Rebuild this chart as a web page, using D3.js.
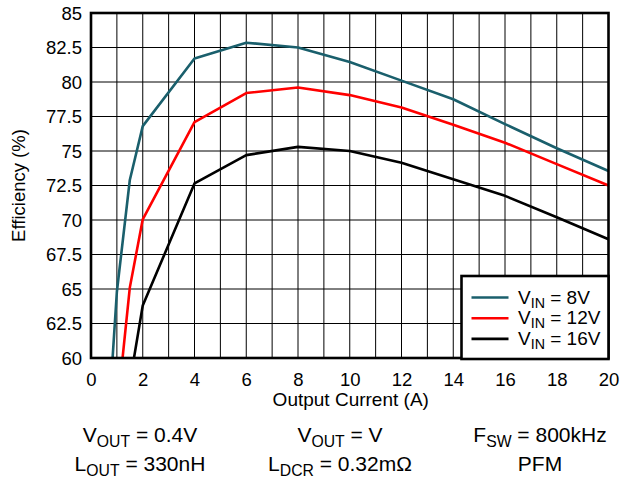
<!DOCTYPE html>
<html><head><meta charset="utf-8">
<script src="https://cdn.jsdelivr.net/npm/d3@7/dist/d3.min.js"></script>
<style>body{margin:0;background:#fff} text{font-family:"Liberation Sans",Arial,Helvetica,sans-serif;fill:#000}</style>
</head><body><svg id="c" width="631" height="493"></svg>
<script>
const currents = [0.5, 1, 1.5, 2, 4, 6, 8, 10, 12, 14, 16, 18, 20];
const eff8V  = [50.3, 64.8, 72.9, 76.8, 81.7, 82.85, 82.5, 81.45, 80.1, 78.75, 76.95, 75.2, 73.55];
const eff12V = [null, 56.0, 65.1, 70.05, 77.1, 79.2, 79.6, 79.05, 78.15, 76.9, 75.6, 74.05, 72.5];
const eff16V = [null, null, 58.2, 63.8, 72.65, 74.7, 75.3, 75.0, 74.15, 72.95, 71.75, 70.2, 68.6];
const seriesLabels = ["8V", "12V", "16V"];
const seriesColors = ["#1a5f6c", "#ff0000", "#000000"];
const xTickValues = [0, 2, 4, 6, 8, 10, 12, 14, 16, 18, 20];
const yTickValues = [60, 62.5, 65, 67.5, 70, 72.5, 75, 77.5, 80, 82.5, 85];
const yTickLabels = ["60", "62.5", "65", "67.5", "70", "72.5", "75", "77.5", "80", "82.5", "85"];
const xGrid = d3.range(0, 21, 1);
const xTitle = "Output Current (A)";
const yTitle = "Efficiency (%)";
// notes: [main, subscript, rest]
const notesRow1 = [["V", "OUT", " = 0.4V"], ["V", "OUT", " = V"], ["F", "SW", " = 800kHz"]];
const notesRow2 = [["L", "OUT", " = 330nH"], ["L", "DCR", " = 0.32m\u03A9"], ["PFM", "", ""]];

const svg = d3.select("#c");
const L = 91, R = 608.5, T = 13, B = 358;
const x = d3.scaleLinear().domain([0, 20]).range([L, R]);
const y = d3.scaleLinear().domain([60, 85]).range([B, T]);
const FS = 18.5, TF = 19;

// grid
const g = svg.append("g");
g.selectAll("line.vx").data(xGrid).enter().append("line")
  .attr("x1", d => x(d)).attr("x2", d => x(d)).attr("y1", T).attr("y2", B)
  .attr("stroke", "#000").attr("stroke-width", 1);
g.selectAll("line.hy").data(yTickValues).enter().append("line")
  .attr("y1", d => y(d)).attr("y2", d => y(d)).attr("x1", L).attr("x2", R)
  .attr("stroke", "#000").attr("stroke-width", 1);

// clip
svg.append("clipPath").attr("id", "clip").append("rect")
  .attr("x", L).attr("y", T).attr("width", R - L).attr("height", B - T);

const allSeries = [eff8V, eff12V, eff16V];
const line = d3.line().defined(d => d[1] != null).x(d => x(d[0])).y(d => y(d[1]));
allSeries.forEach((vals, i) => {
  svg.append("path")
    .datum(currents.map((c, k) => [c, vals[k]]))
    .attr("d", line).attr("fill", "none")
    .attr("stroke", seriesColors[i]).attr("stroke-width", 2.6)
    .attr("stroke-linejoin", "round")
    .attr("clip-path", "url(#clip)");
});

// frame
svg.append("rect").attr("x", L).attr("y", T).attr("width", R - L).attr("height", B - T)
  .attr("fill", "none").attr("stroke", "#000").attr("stroke-width", 2.6);

// axes
const xAxis = d3.axisBottom(x).tickValues(xTickValues).tickSize(0).tickPadding(0).tickFormat(d3.format("d"));
const xa = svg.append("g").attr("transform", `translate(0,${B})`).call(xAxis);
xa.select(".domain").remove();
xa.selectAll("text").attr("font-size", FS).attr("dy", null).attr("y", 28).attr("font-family", "Liberation Sans, Arial, sans-serif");

const yAxis = d3.axisLeft(y).tickValues(yTickValues).tickSize(0).tickPadding(9)
  .tickFormat((d, i) => yTickLabels[i]);
const ya = svg.append("g").attr("transform", `translate(${L},0)`).call(yAxis);
ya.select(".domain").remove();
ya.selectAll("text").attr("font-size", FS).attr("dy", "0.35em").attr("font-family", "Liberation Sans, Arial, sans-serif");

// titles
svg.append("text").attr("x", (L + R) / 2 + 1).attr("y", 406).attr("text-anchor", "middle")
  .attr("font-size", TF).text(xTitle);
svg.append("text").attr("transform", `translate(25,${(T + B) / 2}) rotate(-90)`)
  .attr("text-anchor", "middle").attr("font-size", FS).text(yTitle);

// legend
const lg = svg.append("g");
lg.append("rect").attr("x", 461.5).attr("y", 276).attr("width", 147).attr("height", 83)
  .attr("fill", "#fff").attr("stroke", "#000").attr("stroke-width", 2.6);
seriesLabels.forEach((s, i) => {
  const yy = 297.5 + i * 20.7;
  lg.append("line").attr("x1", 471.5).attr("x2", 508.5).attr("y1", yy).attr("y2", yy)
    .attr("stroke", seriesColors[i]).attr("stroke-width", 2.6);
  const t = lg.append("text").attr("x", 518).attr("y", yy + 6).attr("font-size", TF);
  t.append("tspan").text("V");
  t.append("tspan").attr("font-size", TF * 0.75).attr("dy", 4).text("IN");
  t.append("tspan").attr("dy", -4).text(" = " + s);
});

// notes
const colX = [140, 340, 540];
const NF = 21;
[[notesRow1, 441.5], [notesRow2, 471]].forEach(([row, by]) => {
  row.forEach((n, i) => {
    const t = svg.append("text").attr("x", colX[i]).attr("y", by).attr("text-anchor", "middle").attr("font-size", NF);
    t.append("tspan").text(n[0]);
    if (n[1]) {
      t.append("tspan").attr("font-size", NF * 0.75).attr("dy", 5).text(n[1]);
      t.append("tspan").attr("dy", -5).text(n[2]);
    }
  });
});
</script></body></html>
